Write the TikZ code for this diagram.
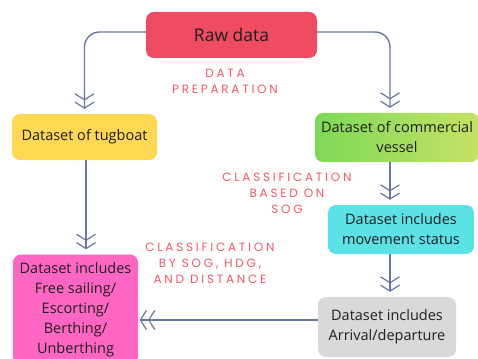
\documentclass[tikz,border=0pt]{standalone}
\usepackage{fontspec}
\setmainfont{Open Sans}
\newfontfamily\labelfont[LetterSpace=23]{Poppins}
\usetikzlibrary{arrows.meta}

\definecolor{rawred}{HTML}{EF4B62}
\definecolor{tugyellow}{HTML}{FDD853}
\definecolor{greenA}{HTML}{7ED957}
\definecolor{greenB}{HTML}{C6E265}
\definecolor{movcyan}{HTML}{5CE1E6}
\definecolor{arrgray}{HTML}{D9D9D9}
\definecolor{pinkbox}{HTML}{FF66C4}
\definecolor{linkblue}{HTML}{6A789E}
\definecolor{labelpink}{HTML}{EE5A6F}
\definecolor{boxtext}{HTML}{1F1F1F}

\tikzset{
  box/.style={rounded corners=8pt, align=center, text=boxtext,
    font=\fontsize{14.5}{20}\selectfont, inner sep=0pt},
  chev/.tip={Straight Barb[length=6pt,width=19pt,line width=1.2pt]},
  conn/.style={draw=linkblue, line width=1.4pt, rounded corners=15pt,
    -{chev[sep=1pt] chev}, shorten >=5pt},
  steplabel/.style={text=labelpink, align=center,
    font=\labelfont\fontsize{12}{16}\selectfont}
}

\begin{document}
\begin{tikzpicture}[x=1pt, y=-1pt]
  \useasboundingbox (0,0) rectangle (478,358);
  \clip (0,0) rectangle (478,358);

  % boxes
  \node[box, fill=rawred, minimum width=171pt, minimum height=46pt,
        font=\fontsize{17.5}{20}\selectfont] (raw) at (231.5,35) {Raw data};
  \node[box, fill=tugyellow, minimum width=145pt, minimum height=46pt]
        (tug) at (84.5,137) {Dataset of tugboat};
  \node[box, left color=greenA, right color=greenB, minimum width=164pt,
        minimum height=49pt] (com) at (397,137.5)
        {Dataset of commercial\\vessel};
  \node[box, fill=movcyan, minimum width=146pt, minimum height=49pt]
        (mov) at (401,229.5) {Dataset includes\\movement status};
  \node[box, fill=arrgray, minimum width=138pt, minimum height=60pt]
        (arr) at (387,327) {Dataset includes\\Arrival/departure};
  \node[box, fill=pinkbox, minimum width=125pt, minimum height=110pt]
        (pink) at (75.5,309.5)
        {Dataset includes\\Free sailing/\\Escorting/\\Berthing/\\Unberthing};

  % column used by the right-hand connectors
  \coordinate (colx) at (390,0);

  % connectors
  \draw[conn] ([yshift=3pt]raw.west) -| (tug.north);
  \draw[conn] ([yshift=3pt]raw.east) -| (com.north -| colx);
  \draw[conn, rounded corners=0pt] ([xshift=1.5pt]tug.south) -- ([xshift=1.5pt]pink.north -| tug.south);
  \draw[conn, rounded corners=0pt] (com.south -| colx) -- (mov.north -| colx);
  \draw[conn, rounded corners=0pt] (mov.south -| colx) -- (arr.north -| colx);
  \draw[conn, rounded corners=0pt, shorten >=1.5pt] ([yshift=7pt]arr.west) -- ([yshift=7pt]arr.west -| pink.east);

  % step labels
  \node[steplabel] (prep) at (225,81) {DATA\\PREPARATION};
  \node[steplabel] (sog) at (287,193) {CLASSIFICATION\\BASED ON\\SOG};
  \node[steplabel] (hdg) at (210,263) {CLASSIFICATION\\BY SOG, HDG,\\AND DISTANCE};
\end{tikzpicture}
\end{document}
